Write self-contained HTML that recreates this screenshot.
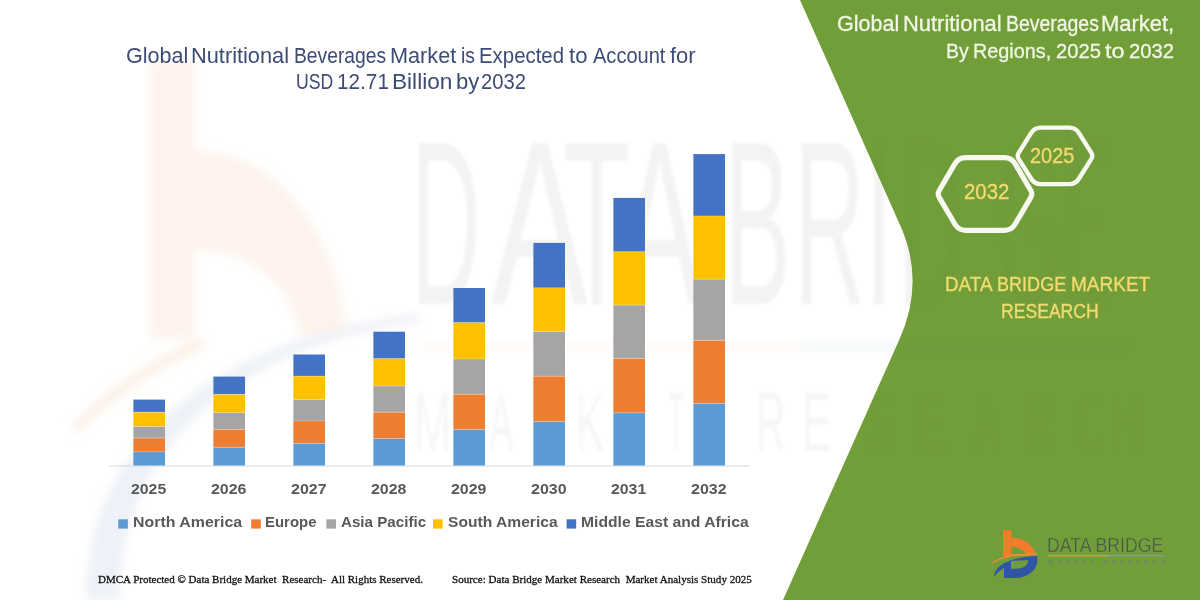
<!DOCTYPE html>
<html><head><meta charset="utf-8"><style>
html,body{margin:0;padding:0;}
body{width:1200px;height:600px;overflow:hidden;position:relative;background:#fff;}
.t{position:absolute;white-space:pre;transform-origin:0 0;}
svg{position:absolute;left:0;top:0;}
</style></head><body>
<svg width="1200" height="600" viewBox="0 0 1200 600">
 <defs><filter id="bl" x="-20%" y="-20%" width="140%" height="140%"><feGaussianBlur stdDeviation="4"/></filter></defs>
 <g filter="url(#bl)">
  <path d="M150,62 L195,62 L195,152 C270,150 335,220 347,335 L300,335 C292,288 255,250 195,250 L195,338 L150,338 Z" fill="#FEF3EC"/>
  <path d="M86,600 C84,480 168,345 420,314 L420,322 C210,350 118,470 120,600 Z" fill="#EEF1F7"/>
  <path d="M72,426 C100,395 140,365 200,338 L205,348 C150,372 110,400 78,434 Z" fill="#FDF0E6"/>
 </g>
 <path d="M800,0 L899,222.8 Q926,280 899.5,339.2 L783,600 L1200,600 L1200,0 Z" fill="#729E3A"/>
 <rect x="420" y="341" width="380" height="10" fill="#F9A060" fill-opacity="0.05" filter="url(#bl)"/>
 <rect x="800" y="341" width="330" height="10" fill="#2F55A4" fill-opacity="0.04" filter="url(#bl)"/>
</svg>
<div style="position:absolute;left:0;top:0;width:1200px;height:600px;clip-path:path('M0,0 L800,0 L899,222.8 Q926,280 899.5,339.2 L783,600 L0,600 Z')"><div style="position:absolute;left:0;top:0;width:1200px;height:600px;filter:blur(1.6px)"><div class="t" style="left:411.27px;top:106.44px;font-family:'Liberation Sans',sans-serif;font-weight:normal;color:rgba(0,0,0,0.048);font-size:234.801px;line-height:234.801px;transform:scaleX(0.4115)">D</div><div class="t" style="left:490.98px;top:106.44px;font-family:'Liberation Sans',sans-serif;font-weight:normal;color:rgba(0,0,0,0.048);font-size:234.801px;line-height:234.801px;transform:scaleX(0.6197)">A</div><div class="t" style="left:562.79px;top:106.44px;font-family:'Liberation Sans',sans-serif;font-weight:normal;color:rgba(0,0,0,0.048);font-size:234.801px;line-height:234.801px;transform:scaleX(0.4707)">T</div><div class="t" style="left:618.00px;top:106.44px;font-family:'Liberation Sans',sans-serif;font-weight:normal;color:rgba(0,0,0,0.048);font-size:234.801px;line-height:234.801px;transform:scaleX(0.5292)">A</div><div class="t" style="left:724.00px;top:106.44px;font-family:'Liberation Sans',sans-serif;font-weight:normal;color:rgba(0,0,0,0.048);font-size:234.801px;line-height:234.801px;transform:scaleX(0.4259)">B</div><div class="t" style="left:794.14px;top:106.44px;font-family:'Liberation Sans',sans-serif;font-weight:normal;color:rgba(0,0,0,0.048);font-size:234.801px;line-height:234.801px;transform:scaleX(0.4187)">R</div><div class="t" style="left:865.00px;top:106.44px;font-family:'Liberation Sans',sans-serif;font-weight:normal;color:rgba(0,0,0,0.048);font-size:234.801px;line-height:234.801px;transform:scaleX(0.4259)">I</div><div class="t" style="left:897.81px;top:106.44px;font-family:'Liberation Sans',sans-serif;font-weight:normal;color:rgba(0,0,0,0.048);font-size:234.801px;line-height:234.801px;transform:scaleX(0.3827)">D</div><div class="t" style="left:995.77px;top:106.44px;font-family:'Liberation Sans',sans-serif;font-weight:normal;color:rgba(0,0,0,0.048);font-size:234.801px;line-height:234.801px;transform:scaleX(0.3606)">G</div><div class="t" style="left:1064.81px;top:106.44px;font-family:'Liberation Sans',sans-serif;font-weight:normal;color:rgba(0,0,0,0.048);font-size:234.801px;line-height:234.801px;transform:scaleX(0.2760)">E</div><div class="t" style="left:414.42px;top:381.78px;font-family:'Liberation Sans',sans-serif;font-weight:normal;color:rgba(0,0,0,0.035);font-size:82.609px;line-height:82.609px;transform:scaleX(0.5420)">M</div><div class="t" style="left:489.00px;top:381.78px;font-family:'Liberation Sans',sans-serif;font-weight:normal;color:rgba(0,0,0,0.035);font-size:82.609px;line-height:82.609px;transform:scaleX(0.4402)">A</div><div class="t" style="left:532.75px;top:381.78px;font-family:'Liberation Sans',sans-serif;font-weight:normal;color:rgba(0,0,0,0.035);font-size:82.609px;line-height:82.609px;transform:scaleX(0.4924)">R</div><div class="t" style="left:575.63px;top:381.78px;font-family:'Liberation Sans',sans-serif;font-weight:normal;color:rgba(0,0,0,0.035);font-size:82.609px;line-height:82.609px;transform:scaleX(0.5097)">K</div><div class="t" style="left:619.44px;top:381.78px;font-family:'Liberation Sans',sans-serif;font-weight:normal;color:rgba(0,0,0,0.035);font-size:82.609px;line-height:82.609px;transform:scaleX(0.5380)">E</div><div class="t" style="left:668.51px;top:381.78px;font-family:'Liberation Sans',sans-serif;font-weight:normal;color:rgba(0,0,0,0.035);font-size:82.609px;line-height:82.609px;transform:scaleX(0.2973)">T</div><div class="t" style="left:755.75px;top:381.78px;font-family:'Liberation Sans',sans-serif;font-weight:normal;color:rgba(0,0,0,0.035);font-size:82.609px;line-height:82.609px;transform:scaleX(0.4924)">R</div><div class="t" style="left:802.44px;top:381.78px;font-family:'Liberation Sans',sans-serif;font-weight:normal;color:rgba(0,0,0,0.035);font-size:82.609px;line-height:82.609px;transform:scaleX(0.5380)">E</div><div class="t" style="left:865.89px;top:381.78px;font-family:'Liberation Sans',sans-serif;font-weight:normal;color:rgba(0,0,0,0.035);font-size:82.609px;line-height:82.609px;transform:scaleX(0.5097)">S</div><div class="t" style="left:916.44px;top:381.78px;font-family:'Liberation Sans',sans-serif;font-weight:normal;color:rgba(0,0,0,0.035);font-size:82.609px;line-height:82.609px;transform:scaleX(0.5380)">E</div><div class="t" style="left:974.00px;top:381.78px;font-family:'Liberation Sans',sans-serif;font-weight:normal;color:rgba(0,0,0,0.035);font-size:82.609px;line-height:82.609px;transform:scaleX(0.4402)">A</div><div class="t" style="left:1024.75px;top:381.78px;font-family:'Liberation Sans',sans-serif;font-weight:normal;color:rgba(0,0,0,0.035);font-size:82.609px;line-height:82.609px;transform:scaleX(0.4924)">R</div><div class="t" style="left:1076.10px;top:381.78px;font-family:'Liberation Sans',sans-serif;font-weight:normal;color:rgba(0,0,0,0.035);font-size:82.609px;line-height:82.609px;transform:scaleX(0.4612)">C</div><div class="t" style="left:1111.33px;top:381.78px;font-family:'Liberation Sans',sans-serif;font-weight:normal;color:rgba(0,0,0,0.035);font-size:82.609px;line-height:82.609px;transform:scaleX(0.5423)">H</div></div></div>
<div style="position:absolute;left:0;top:0;width:1200px;height:600px;opacity:0.4;clip-path:path('M800,0 L899,222.8 Q926,280 899.5,339.2 L783,600 L1200,600 L1200,0 Z')"><div style="position:absolute;left:0;top:0;width:1200px;height:600px;filter:blur(2.2px)"><div class="t" style="left:411.27px;top:106.44px;font-family:'Liberation Sans',sans-serif;font-weight:normal;color:rgba(0,0,0,0.048);font-size:234.801px;line-height:234.801px;transform:scaleX(0.4115)">D</div><div class="t" style="left:490.98px;top:106.44px;font-family:'Liberation Sans',sans-serif;font-weight:normal;color:rgba(0,0,0,0.048);font-size:234.801px;line-height:234.801px;transform:scaleX(0.6197)">A</div><div class="t" style="left:562.79px;top:106.44px;font-family:'Liberation Sans',sans-serif;font-weight:normal;color:rgba(0,0,0,0.048);font-size:234.801px;line-height:234.801px;transform:scaleX(0.4707)">T</div><div class="t" style="left:618.00px;top:106.44px;font-family:'Liberation Sans',sans-serif;font-weight:normal;color:rgba(0,0,0,0.048);font-size:234.801px;line-height:234.801px;transform:scaleX(0.5292)">A</div><div class="t" style="left:724.00px;top:106.44px;font-family:'Liberation Sans',sans-serif;font-weight:normal;color:rgba(0,0,0,0.048);font-size:234.801px;line-height:234.801px;transform:scaleX(0.4259)">B</div><div class="t" style="left:794.14px;top:106.44px;font-family:'Liberation Sans',sans-serif;font-weight:normal;color:rgba(0,0,0,0.048);font-size:234.801px;line-height:234.801px;transform:scaleX(0.4187)">R</div><div class="t" style="left:865.00px;top:106.44px;font-family:'Liberation Sans',sans-serif;font-weight:normal;color:rgba(0,0,0,0.048);font-size:234.801px;line-height:234.801px;transform:scaleX(0.4259)">I</div><div class="t" style="left:897.81px;top:106.44px;font-family:'Liberation Sans',sans-serif;font-weight:normal;color:rgba(0,0,0,0.048);font-size:234.801px;line-height:234.801px;transform:scaleX(0.3827)">D</div><div class="t" style="left:995.77px;top:106.44px;font-family:'Liberation Sans',sans-serif;font-weight:normal;color:rgba(0,0,0,0.048);font-size:234.801px;line-height:234.801px;transform:scaleX(0.3606)">G</div><div class="t" style="left:1064.81px;top:106.44px;font-family:'Liberation Sans',sans-serif;font-weight:normal;color:rgba(0,0,0,0.048);font-size:234.801px;line-height:234.801px;transform:scaleX(0.2760)">E</div><div class="t" style="left:414.42px;top:381.78px;font-family:'Liberation Sans',sans-serif;font-weight:normal;color:rgba(0,0,0,0.035);font-size:82.609px;line-height:82.609px;transform:scaleX(0.5420)">M</div><div class="t" style="left:489.00px;top:381.78px;font-family:'Liberation Sans',sans-serif;font-weight:normal;color:rgba(0,0,0,0.035);font-size:82.609px;line-height:82.609px;transform:scaleX(0.4402)">A</div><div class="t" style="left:532.75px;top:381.78px;font-family:'Liberation Sans',sans-serif;font-weight:normal;color:rgba(0,0,0,0.035);font-size:82.609px;line-height:82.609px;transform:scaleX(0.4924)">R</div><div class="t" style="left:575.63px;top:381.78px;font-family:'Liberation Sans',sans-serif;font-weight:normal;color:rgba(0,0,0,0.035);font-size:82.609px;line-height:82.609px;transform:scaleX(0.5097)">K</div><div class="t" style="left:619.44px;top:381.78px;font-family:'Liberation Sans',sans-serif;font-weight:normal;color:rgba(0,0,0,0.035);font-size:82.609px;line-height:82.609px;transform:scaleX(0.5380)">E</div><div class="t" style="left:668.51px;top:381.78px;font-family:'Liberation Sans',sans-serif;font-weight:normal;color:rgba(0,0,0,0.035);font-size:82.609px;line-height:82.609px;transform:scaleX(0.2973)">T</div><div class="t" style="left:755.75px;top:381.78px;font-family:'Liberation Sans',sans-serif;font-weight:normal;color:rgba(0,0,0,0.035);font-size:82.609px;line-height:82.609px;transform:scaleX(0.4924)">R</div><div class="t" style="left:802.44px;top:381.78px;font-family:'Liberation Sans',sans-serif;font-weight:normal;color:rgba(0,0,0,0.035);font-size:82.609px;line-height:82.609px;transform:scaleX(0.5380)">E</div><div class="t" style="left:865.89px;top:381.78px;font-family:'Liberation Sans',sans-serif;font-weight:normal;color:rgba(0,0,0,0.035);font-size:82.609px;line-height:82.609px;transform:scaleX(0.5097)">S</div><div class="t" style="left:916.44px;top:381.78px;font-family:'Liberation Sans',sans-serif;font-weight:normal;color:rgba(0,0,0,0.035);font-size:82.609px;line-height:82.609px;transform:scaleX(0.5380)">E</div><div class="t" style="left:974.00px;top:381.78px;font-family:'Liberation Sans',sans-serif;font-weight:normal;color:rgba(0,0,0,0.035);font-size:82.609px;line-height:82.609px;transform:scaleX(0.4402)">A</div><div class="t" style="left:1024.75px;top:381.78px;font-family:'Liberation Sans',sans-serif;font-weight:normal;color:rgba(0,0,0,0.035);font-size:82.609px;line-height:82.609px;transform:scaleX(0.4924)">R</div><div class="t" style="left:1076.10px;top:381.78px;font-family:'Liberation Sans',sans-serif;font-weight:normal;color:rgba(0,0,0,0.035);font-size:82.609px;line-height:82.609px;transform:scaleX(0.4612)">C</div><div class="t" style="left:1111.33px;top:381.78px;font-family:'Liberation Sans',sans-serif;font-weight:normal;color:rgba(0,0,0,0.035);font-size:82.609px;line-height:82.609px;transform:scaleX(0.5423)">H</div></div></div>
<svg width="1200" height="600" viewBox="0 0 1200 600">
 <line x1="109" y1="466" x2="750" y2="466" stroke="#D9D9D9" stroke-width="1"/>
 <rect x="133.40" y="399.60" width="31.6" height="12.65" fill="#4472C4"/><rect x="133.40" y="412.25" width="31.6" height="14.35" fill="#FFC000"/><rect x="133.40" y="426.60" width="31.6" height="11.50" fill="#A5A5A5"/><rect x="133.40" y="438.10" width="31.6" height="13.80" fill="#ED7D31"/><rect x="133.40" y="451.90" width="31.6" height="13.60" fill="#5B9BD5"/><rect x="133.40" y="411.75" width="31.6" height="0.8" fill="#fff" fill-opacity="0.35"/><rect x="133.40" y="426.10" width="31.6" height="0.8" fill="#fff" fill-opacity="0.35"/><rect x="133.40" y="437.60" width="31.6" height="0.8" fill="#fff" fill-opacity="0.35"/><rect x="133.40" y="451.40" width="31.6" height="0.8" fill="#fff" fill-opacity="0.35"/><rect x="213.40" y="376.60" width="31.6" height="17.80" fill="#4472C4"/><rect x="213.40" y="394.40" width="31.6" height="18.40" fill="#FFC000"/><rect x="213.40" y="412.80" width="31.6" height="16.60" fill="#A5A5A5"/><rect x="213.40" y="429.40" width="31.6" height="17.90" fill="#ED7D31"/><rect x="213.40" y="447.30" width="31.6" height="18.20" fill="#5B9BD5"/><rect x="213.40" y="393.90" width="31.6" height="0.8" fill="#fff" fill-opacity="0.35"/><rect x="213.40" y="412.30" width="31.6" height="0.8" fill="#fff" fill-opacity="0.35"/><rect x="213.40" y="428.90" width="31.6" height="0.8" fill="#fff" fill-opacity="0.35"/><rect x="213.40" y="446.80" width="31.6" height="0.8" fill="#fff" fill-opacity="0.35"/><rect x="293.40" y="354.50" width="31.6" height="21.70" fill="#4472C4"/><rect x="293.40" y="376.20" width="31.6" height="23.30" fill="#FFC000"/><rect x="293.40" y="399.50" width="31.6" height="21.50" fill="#A5A5A5"/><rect x="293.40" y="421.00" width="31.6" height="22.40" fill="#ED7D31"/><rect x="293.40" y="443.40" width="31.6" height="22.10" fill="#5B9BD5"/><rect x="293.40" y="375.70" width="31.6" height="0.8" fill="#fff" fill-opacity="0.35"/><rect x="293.40" y="399.00" width="31.6" height="0.8" fill="#fff" fill-opacity="0.35"/><rect x="293.40" y="420.50" width="31.6" height="0.8" fill="#fff" fill-opacity="0.35"/><rect x="293.40" y="442.90" width="31.6" height="0.8" fill="#fff" fill-opacity="0.35"/><rect x="373.40" y="331.70" width="31.6" height="27.00" fill="#4472C4"/><rect x="373.40" y="358.70" width="31.6" height="27.30" fill="#FFC000"/><rect x="373.40" y="386.00" width="31.6" height="26.30" fill="#A5A5A5"/><rect x="373.40" y="412.30" width="31.6" height="26.40" fill="#ED7D31"/><rect x="373.40" y="438.70" width="31.6" height="26.80" fill="#5B9BD5"/><rect x="373.40" y="358.20" width="31.6" height="0.8" fill="#fff" fill-opacity="0.35"/><rect x="373.40" y="385.50" width="31.6" height="0.8" fill="#fff" fill-opacity="0.35"/><rect x="373.40" y="411.80" width="31.6" height="0.8" fill="#fff" fill-opacity="0.35"/><rect x="373.40" y="438.20" width="31.6" height="0.8" fill="#fff" fill-opacity="0.35"/><rect x="453.40" y="288.00" width="31.6" height="34.70" fill="#4472C4"/><rect x="453.40" y="322.70" width="31.6" height="36.30" fill="#FFC000"/><rect x="453.40" y="359.00" width="31.6" height="35.30" fill="#A5A5A5"/><rect x="453.40" y="394.30" width="31.6" height="35.40" fill="#ED7D31"/><rect x="453.40" y="429.70" width="31.6" height="35.80" fill="#5B9BD5"/><rect x="453.40" y="322.20" width="31.6" height="0.8" fill="#fff" fill-opacity="0.35"/><rect x="453.40" y="358.50" width="31.6" height="0.8" fill="#fff" fill-opacity="0.35"/><rect x="453.40" y="393.80" width="31.6" height="0.8" fill="#fff" fill-opacity="0.35"/><rect x="453.40" y="429.20" width="31.6" height="0.8" fill="#fff" fill-opacity="0.35"/><rect x="533.40" y="242.90" width="31.6" height="45.00" fill="#4472C4"/><rect x="533.40" y="287.90" width="31.6" height="43.80" fill="#FFC000"/><rect x="533.40" y="331.70" width="31.6" height="44.55" fill="#A5A5A5"/><rect x="533.40" y="376.25" width="31.6" height="45.45" fill="#ED7D31"/><rect x="533.40" y="421.70" width="31.6" height="43.80" fill="#5B9BD5"/><rect x="533.40" y="287.40" width="31.6" height="0.8" fill="#fff" fill-opacity="0.35"/><rect x="533.40" y="331.20" width="31.6" height="0.8" fill="#fff" fill-opacity="0.35"/><rect x="533.40" y="375.75" width="31.6" height="0.8" fill="#fff" fill-opacity="0.35"/><rect x="533.40" y="421.20" width="31.6" height="0.8" fill="#fff" fill-opacity="0.35"/><rect x="613.40" y="197.90" width="31.6" height="53.90" fill="#4472C4"/><rect x="613.40" y="251.80" width="31.6" height="53.30" fill="#FFC000"/><rect x="613.40" y="305.10" width="31.6" height="53.30" fill="#A5A5A5"/><rect x="613.40" y="358.40" width="31.6" height="54.50" fill="#ED7D31"/><rect x="613.40" y="412.90" width="31.6" height="52.60" fill="#5B9BD5"/><rect x="613.40" y="251.30" width="31.6" height="0.8" fill="#fff" fill-opacity="0.35"/><rect x="613.40" y="304.60" width="31.6" height="0.8" fill="#fff" fill-opacity="0.35"/><rect x="613.40" y="357.90" width="31.6" height="0.8" fill="#fff" fill-opacity="0.35"/><rect x="613.40" y="412.40" width="31.6" height="0.8" fill="#fff" fill-opacity="0.35"/><rect x="693.40" y="154.10" width="31.6" height="61.90" fill="#4472C4"/><rect x="693.40" y="216.00" width="31.6" height="63.20" fill="#FFC000"/><rect x="693.40" y="279.20" width="31.6" height="61.20" fill="#A5A5A5"/><rect x="693.40" y="340.40" width="31.6" height="63.00" fill="#ED7D31"/><rect x="693.40" y="403.40" width="31.6" height="62.10" fill="#5B9BD5"/><rect x="693.40" y="215.50" width="31.6" height="0.8" fill="#fff" fill-opacity="0.35"/><rect x="693.40" y="278.70" width="31.6" height="0.8" fill="#fff" fill-opacity="0.35"/><rect x="693.40" y="339.90" width="31.6" height="0.8" fill="#fff" fill-opacity="0.35"/><rect x="693.40" y="402.90" width="31.6" height="0.8" fill="#fff" fill-opacity="0.35"/>
 <rect x="118.25" y="519.3" width="9.6" height="9.3" fill="#5B9BD5"/><rect x="251.2" y="519.3" width="9.6" height="9.3" fill="#ED7D31"/><rect x="326.4" y="519.3" width="9.6" height="9.3" fill="#A5A5A5"/><rect x="433" y="519.3" width="9.6" height="9.3" fill="#FFC000"/><rect x="566.6" y="519.3" width="9.6" height="9.3" fill="#4472C4"/>
 <path d="M939.22,197.35 Q937.20,193.90 939.22,190.45 L954.96,163.64 Q958.50,157.60 965.50,157.60 L1004.50,157.60 Q1011.50,157.60 1015.04,163.64 L1030.78,190.45 Q1032.80,193.90 1030.78,197.35 L1015.04,224.26 Q1011.50,230.30 1004.50,230.30 L965.50,230.30 Q958.50,230.30 954.96,224.26 Z" fill="none" stroke="#F7F9F0" stroke-width="5.2"/>
 <path d="M1018.66,158.86 Q1016.80,155.90 1018.66,152.93 L1031.32,132.69 Q1034.50,127.60 1040.50,127.60 L1069.50,127.60 Q1075.50,127.60 1078.68,132.69 L1091.34,152.93 Q1093.20,155.90 1091.34,158.86 L1078.69,179.02 Q1075.50,184.10 1069.50,184.10 L1040.50,184.10 Q1034.50,184.10 1031.31,179.02 Z" fill="none" stroke="#F7F9F0" stroke-width="4.4"/>
 <g id="logo">
  <rect x="1003" y="530" width="8.5" height="26" fill="#F47B2A"/>
  <path d="M1011.5,538 C1022,537 1033,544 1036,555 L1027,555 C1025,550 1018,547 1011.5,547 Z" fill="#F47B2A"/>
  <path d="M991,563 Q1000,557 1011,554.5 L1037,553 L1037,555 L1011,556.5 Q1000,559 991,564 Z" fill="#F08A3A"/>
  <path d="M994,577 C994,566 1010,557 1037,556 C1039,566 1033,578 1012,578 L1004,578 L1004,568 C999,571 996,574 994,577 Z M1011,561 L1028,560 C1028,566 1024,569 1011,569 Z" fill="#2F55A4" fill-rule="evenodd"/>
  <rect x="1048" y="555" width="59" height="1.3" fill="#C9A650"/>
  <rect x="1107" y="555" width="58" height="1.3" fill="#8A9EA0"/>
 </g>
</svg>
<div class="t" style="left:125.92px;top:45.52px;font-family:'Liberation Sans',sans-serif;font-weight:normal;color:#3D4C74;font-size:21.484px;line-height:21.484px;transform:scaleX(1.0050)">Global</div><div class="t" style="left:191.46px;top:45.52px;font-family:'Liberation Sans',sans-serif;font-weight:normal;color:#3D4C74;font-size:21.484px;line-height:21.484px;transform:scaleX(1.0142)">Nutritional</div><div class="t" style="left:293.66px;top:45.52px;font-family:'Liberation Sans',sans-serif;font-weight:normal;color:#3D4C74;font-size:21.484px;line-height:21.484px;transform:scaleX(0.8970)">Beverages</div><div class="t" style="left:390.06px;top:45.52px;font-family:'Liberation Sans',sans-serif;font-weight:normal;color:#3D4C74;font-size:21.484px;line-height:21.484px;transform:scaleX(1.0093)">Market</div><div class="t" style="left:460.60px;top:45.52px;font-family:'Liberation Sans',sans-serif;font-weight:normal;color:#3D4C74;font-size:21.484px;line-height:21.484px;transform:scaleX(0.9038)">is</div><div class="t" style="left:479.37px;top:45.52px;font-family:'Liberation Sans',sans-serif;font-weight:normal;color:#3D4C74;font-size:21.484px;line-height:21.484px;transform:scaleX(0.9495)">Expected</div><div class="t" style="left:568.71px;top:45.52px;font-family:'Liberation Sans',sans-serif;font-weight:normal;color:#3D4C74;font-size:21.484px;line-height:21.484px;transform:scaleX(1.0308)">to</div><div class="t" style="left:592.80px;top:45.52px;font-family:'Liberation Sans',sans-serif;font-weight:normal;color:#3D4C74;font-size:21.484px;line-height:21.484px;transform:scaleX(0.9335)">Account</div><div class="t" style="left:669.58px;top:45.52px;font-family:'Liberation Sans',sans-serif;font-weight:normal;color:#3D4C74;font-size:21.484px;line-height:21.484px;transform:scaleX(1.0208)">for</div><div class="t" style="left:295.92px;top:71.45px;font-family:'Liberation Sans',sans-serif;font-weight:normal;color:#3D4C74;font-size:22.074px;line-height:22.074px;transform:scaleX(0.8000)">USD</div><div class="t" style="left:337.34px;top:71.45px;font-family:'Liberation Sans',sans-serif;font-weight:normal;color:#3D4C74;font-size:22.074px;line-height:22.074px;transform:scaleX(0.9406)">12.71</div><div class="t" style="left:392.39px;top:71.45px;font-family:'Liberation Sans',sans-serif;font-weight:normal;color:#3D4C74;font-size:22.074px;line-height:22.074px;transform:scaleX(1.0248)">Billion</div><div class="t" style="left:456.07px;top:71.45px;font-family:'Liberation Sans',sans-serif;font-weight:normal;color:#3D4C74;font-size:22.074px;line-height:22.074px;transform:scaleX(1.0007)">by</div><div class="t" style="left:481.40px;top:71.45px;font-family:'Liberation Sans',sans-serif;font-weight:normal;color:#3D4C74;font-size:22.074px;line-height:22.074px;transform:scaleX(0.9147)">2032</div><div class="t" style="left:130.72px;top:481.49px;font-family:'Liberation Sans',sans-serif;font-weight:bold;color:#595959;font-size:15.029px;line-height:15.029px;transform:scaleX(1.0548)">2025</div><div class="t" style="left:210.73px;top:481.49px;font-family:'Liberation Sans',sans-serif;font-weight:bold;color:#595959;font-size:15.029px;line-height:15.029px;transform:scaleX(1.0606)">2026</div><div class="t" style="left:290.71px;top:481.49px;font-family:'Liberation Sans',sans-serif;font-weight:bold;color:#595959;font-size:15.029px;line-height:15.029px;transform:scaleX(1.0646)">2027</div><div class="t" style="left:370.72px;top:481.49px;font-family:'Liberation Sans',sans-serif;font-weight:bold;color:#595959;font-size:15.029px;line-height:15.029px;transform:scaleX(1.0597)">2028</div><div class="t" style="left:450.73px;top:481.49px;font-family:'Liberation Sans',sans-serif;font-weight:bold;color:#595959;font-size:15.029px;line-height:15.029px;transform:scaleX(1.0606)">2029</div><div class="t" style="left:530.71px;top:481.49px;font-family:'Liberation Sans',sans-serif;font-weight:bold;color:#595959;font-size:15.029px;line-height:15.029px;transform:scaleX(1.0646)">2030</div><div class="t" style="left:610.72px;top:481.49px;font-family:'Liberation Sans',sans-serif;font-weight:bold;color:#595959;font-size:15.029px;line-height:15.029px;transform:scaleX(1.0548)">2031</div><div class="t" style="left:690.71px;top:481.49px;font-family:'Liberation Sans',sans-serif;font-weight:bold;color:#595959;font-size:15.029px;line-height:15.029px;transform:scaleX(1.0646)">2032</div><div class="t" style="left:133.09px;top:515.10px;font-family:'Liberation Sans',sans-serif;font-weight:bold;color:#595959;font-size:14.735px;line-height:14.735px;transform:scaleX(1.0815)">North America</div><div class="t" style="left:264.94px;top:515.10px;font-family:'Liberation Sans',sans-serif;font-weight:bold;color:#595959;font-size:14.735px;line-height:14.735px;transform:scaleX(1.0161)">Europe</div><div class="t" style="left:340.94px;top:515.10px;font-family:'Liberation Sans',sans-serif;font-weight:bold;color:#595959;font-size:14.735px;line-height:14.735px;transform:scaleX(1.0296)">Asia Pacific</div><div class="t" style="left:447.73px;top:515.10px;font-family:'Liberation Sans',sans-serif;font-weight:bold;color:#595959;font-size:14.735px;line-height:14.735px;transform:scaleX(1.0607)">South America</div><div class="t" style="left:581.10px;top:515.10px;font-family:'Liberation Sans',sans-serif;font-weight:bold;color:#595959;font-size:14.735px;line-height:14.735px;transform:scaleX(1.0659)">Middle East and Africa</div><div class="t" style="left:98.23px;top:573.90px;font-family:'Liberation Serif',sans-serif;font-weight:normal;color:#111111;font-size:11.145px;line-height:11.145px;transform:scaleX(0.9890);-webkit-text-stroke:0.3px #111">DMCA Protected © Data Bridge Market  Research-  All Rights Reserved.</div><div class="t" style="left:452.44px;top:573.90px;font-family:'Liberation Serif',sans-serif;font-weight:normal;color:#111111;font-size:11.145px;line-height:11.145px;transform:scaleX(0.9931);-webkit-text-stroke:0.3px #111">Source: Data Bridge Market Research  Market Analysis Study 2025</div><div class="t" style="left:964.19px;top:180.89px;font-family:'Liberation Sans',sans-serif;font-weight:normal;color:#F3DA6E;font-size:21.759px;line-height:21.759px;transform:scaleX(0.9367);-webkit-text-stroke:0.35px #F3DA6E">2032</div><div class="t" style="left:1030.00px;top:145.48px;font-family:'Liberation Sans',sans-serif;font-weight:normal;color:#F3DA6E;font-size:21.759px;line-height:21.759px;transform:scaleX(0.9152);-webkit-text-stroke:0.35px #F3DA6E">2025</div><div class="t" style="left:1000.59px;top:301.35px;font-family:'Liberation Sans',sans-serif;font-weight:normal;color:#F3DA6E;font-size:20.290px;line-height:20.290px;transform:scaleX(0.8671);-webkit-text-stroke:0.35px #F3DA6E">RESEARCH</div><div class="t" style="left:1046.98px;top:535.42px;font-family:'Liberation Sans',sans-serif;font-weight:normal;color:#46524e;font-size:20.905px;line-height:20.905px;transform:scaleX(0.8470);-webkit-text-stroke:0.5px #729E3A">DATA BRIDGE</div><div class="t" style="left:837.33px;top:14.15px;font-family:'Liberation Sans',sans-serif;font-weight:normal;color:#F1F7E4;font-size:21.484px;line-height:21.484px;transform:scaleX(1.0016);-webkit-text-stroke:0.3px #F1F7E4">Global</div><div class="t" style="left:902.84px;top:14.15px;font-family:'Liberation Sans',sans-serif;font-weight:normal;color:#F1F7E4;font-size:21.484px;line-height:21.484px;transform:scaleX(1.0207);-webkit-text-stroke:0.3px #F1F7E4">Nutritional</div><div class="t" style="left:1005.84px;top:14.15px;font-family:'Liberation Sans',sans-serif;font-weight:normal;color:#F1F7E4;font-size:21.484px;line-height:21.484px;transform:scaleX(0.9050);-webkit-text-stroke:0.3px #F1F7E4">Beverages</div><div class="t" style="left:1101.24px;top:14.15px;font-family:'Liberation Sans',sans-serif;font-weight:normal;color:#F1F7E4;font-size:21.484px;line-height:21.484px;transform:scaleX(1.0223);-webkit-text-stroke:0.3px #F1F7E4">Market,</div><div class="t" style="left:946.42px;top:40.87px;font-family:'Liberation Sans',sans-serif;font-weight:normal;color:#F1F7E4;font-size:20.876px;line-height:20.876px;transform:scaleX(0.9325);-webkit-text-stroke:0.3px #F1F7E4">By</div><div class="t" style="left:973.41px;top:40.87px;font-family:'Liberation Sans',sans-serif;font-weight:normal;color:#F1F7E4;font-size:20.876px;line-height:20.876px;transform:scaleX(0.9504);-webkit-text-stroke:0.3px #F1F7E4">Regions,</div><div class="t" style="left:1055.99px;top:40.87px;font-family:'Liberation Sans',sans-serif;font-weight:normal;color:#F1F7E4;font-size:20.876px;line-height:20.876px;transform:scaleX(0.9670);-webkit-text-stroke:0.3px #F1F7E4">2025</div><div class="t" style="left:1104.53px;top:40.87px;font-family:'Liberation Sans',sans-serif;font-weight:normal;color:#F1F7E4;font-size:20.876px;line-height:20.876px;transform:scaleX(1.1229);-webkit-text-stroke:0.3px #F1F7E4">to</div><div class="t" style="left:1128.99px;top:40.87px;font-family:'Liberation Sans',sans-serif;font-weight:normal;color:#F1F7E4;font-size:20.876px;line-height:20.876px;transform:scaleX(0.9716);-webkit-text-stroke:0.3px #F1F7E4">2032</div><div class="t" style="left:945.47px;top:274.15px;font-family:'Liberation Sans',sans-serif;font-weight:normal;color:#F3DA6E;font-size:20.290px;line-height:20.290px;transform:scaleX(0.9296);-webkit-text-stroke:0.35px #F3DA6E">DATA</div><div class="t" style="left:996.55px;top:274.15px;font-family:'Liberation Sans',sans-serif;font-weight:normal;color:#F3DA6E;font-size:20.290px;line-height:20.290px;transform:scaleX(0.8903);-webkit-text-stroke:0.35px #F3DA6E">BRIDGE</div><div class="t" style="left:1070.67px;top:274.15px;font-family:'Liberation Sans',sans-serif;font-weight:normal;color:#F3DA6E;font-size:20.290px;line-height:20.290px;transform:scaleX(0.9372);-webkit-text-stroke:0.35px #F3DA6E">MARKET</div>
<div class="t" style="left:1048px;top:559px;font-family:'Liberation Sans',sans-serif;font-size:6px;line-height:7px;color:#6a7a70;letter-spacing:4.1px">MARKET RESEARCH</div>
</body></html>
